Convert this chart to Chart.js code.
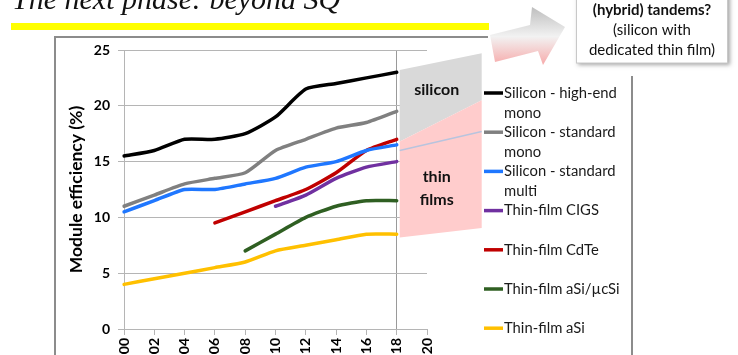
<!DOCTYPE html>
<html><head><meta charset="utf-8">
<script src="https://cdn.jsdelivr.net/npm/chart.js@4"></script>
<style>html,body{margin:0;padding:0;background:#fff;overflow:hidden}canvas{display:block}</style>
</head><body>
<canvas id="c" width="738" height="355"></canvas>
<script>
// ---- data ----
const categories = ['00','02','04','06','08','10','12','14','16','18','20'];
const highEndMono   = [15.5, 16, 17, 17, 17.5, 19, 21.5, 22, 22.5, 23, null];
const standardMono  = [11, 12, 13, 13.5, 14, 16, 17, 18, 18.5, 19.5, null];
const standardMulti = [10.5, 11.5, 12.5, 12.5, 13, 13.5, 14.5, 15, 16, 16.5, null];
const cigs          = [null, null, null, null, null, 11, 12, 13.5, 14.5, 15, null];
const cdte          = [null, null, null, 9.5, 10.5, 11.5, 12.5, 14, 16, 17, null];
const micromorph    = [null, null, null, null, 7, 8.5, 10, 11, 11.5, 11.5, null];
const amorphousSi   = [4, 4.5, 5, 5.5, 6, 7, 7.5, 8, 8.5, 8.5, null];
const seriesNames = ['Silicon - high-end mono','Silicon - standard mono','Silicon - standard multi',
  'Thin-film CIGS','Thin-film CdTe','Thin-film aSi/\u00b5cSi','Thin-film aSi'];
const seriesColors = ['#000000','#808080','#1F77FF','#7030A0','#C00000','#2F5F22','#FFC000'];
const yTicks = [0, 5, 10, 15, 20, 25];
const yTitle = 'Module efficiency (%)';
const pageTitle = 'The next phase: beyond SQ';
const calloutLines = ['(hybrid) tandems?', '(silicon with', 'dedicated thin film)'];
const zoneLabels = ['silicon', 'thin', 'films'];

const seriesValues = [highEndMono, standardMono, standardMulti, cigs, cdte, micromorph, amorphousSi];
const FONT = 'Lato, "Open Sans", sans-serif';
Chart.defaults.font.family = FONT;

const decor = {
  id: 'decor',
  beforeDraw(chart) {
    const c = chart.ctx;
    c.save();
    c.fillStyle = '#fff'; c.fillRect(0, 0, chart.width, chart.height);
    // title
    c.fillStyle = '#111';
    c.font = 'italic 30px "Liberation Serif", "DejaVu Serif", serif';
    c.textBaseline = 'alphabetic'; c.textAlign = 'left';
    c.fillText(pageTitle, 12, 9);
    // yellow bar
    c.fillStyle = '#FFFF00';
    c.fillRect(11, 23, 478, 7);
    // frame
    c.strokeStyle = '#8C8C8C'; c.lineWidth = 2;
    c.beginPath();
    c.moveTo(55, 360); c.lineTo(55, 37); c.lineTo(488, 37);
    c.moveTo(632, 76); c.lineTo(632, 360);
    c.stroke();
    c.restore();
  },
  beforeDatasetsDraw(chart) {
    const c = chart.ctx, xs = chart.scales.x, ys = chart.scales.y;
    const x0 = xs.getPixelForValue(9) + 3, x1 = x0 + 82;
    c.save();
    // silicon zone (gray)
    c.fillStyle = '#D9D9D9';
    c.beginPath();
    c.moveTo(x0, ys.getPixelForValue(23.2)); c.lineTo(x1, ys.getPixelForValue(24.7));
    c.lineTo(x1, ys.getPixelForValue(20.5)); c.lineTo(x0, ys.getPixelForValue(16.8));
    c.closePath(); c.fill();
    // thin film zone (pink)
    c.fillStyle = '#FFCCCC';
    c.beginPath();
    c.moveTo(x0, ys.getPixelForValue(16.8)); c.lineTo(x1, ys.getPixelForValue(20.5));
    c.lineTo(x1, ys.getPixelForValue(9.05)); c.lineTo(x0, ys.getPixelForValue(8.2));
    c.closePath(); c.fill();
    // light blue guide
    c.strokeStyle = '#B8C4DE'; c.lineWidth = 1.5;
    c.beginPath();
    c.moveTo(x0, ys.getPixelForValue(16.0)); c.lineTo(x1, ys.getPixelForValue(17.7));
    c.stroke();
    // zone labels
    c.fillStyle = '#111'; c.font = 'bold 16px ' + FONT;
    c.textAlign = 'center'; c.textBaseline = 'middle';
    const xm = (x0 + x1) / 2 - 4;
    c.fillText(zoneLabels[0], xm, ys.getPixelForValue(21.4));
    c.fillText(zoneLabels[1], xm, ys.getPixelForValue(13.6));
    c.fillText(zoneLabels[2], xm, ys.getPixelForValue(11.6));
    c.restore();
  },
  afterDraw(chart) {
    const c = chart.ctx;
    c.save();
    // arrow
    const g = c.createLinearGradient(0, 7, 0, 66);
    g.addColorStop(0, '#BEBEBE'); g.addColorStop(0.5, '#F2F2F2'); g.addColorStop(1, '#F7A8A8');
    c.fillStyle = g;
    c.beginPath();
    c.moveTo(490, 35); c.lineTo(530, 25); c.lineTo(532, 7); c.lineTo(565, 27);
    c.lineTo(543, 65); c.lineTo(538, 51); c.lineTo(495, 62); c.closePath();
    c.fill();
    // callout box
    c.shadowColor = 'rgba(0,0,0,0.35)'; c.shadowBlur = 4; c.shadowOffsetX = 2; c.shadowOffsetY = 2;
    c.fillStyle = '#fff'; c.fillRect(576, -20, 152, 83);
    c.shadowColor = 'transparent';
    c.strokeStyle = '#C8C8C8'; c.lineWidth = 1; c.strokeRect(576.5, -20, 151, 83);
    c.fillStyle = '#111'; c.textAlign = 'center'; c.textBaseline = 'middle';
    c.font = 'bold 15px ' + FONT; c.fillText(calloutLines[0], 652, 10);
    c.font = '15px ' + FONT;
    c.fillText(calloutLines[1], 652, 30);
    c.fillText(calloutLines[2], 652, 50);
    // legend
    c.font = '14.8px ' + FONT; c.textAlign = 'left';
    let y = 93;
    chart.data.datasets.forEach((ds) => {
      const words = ds.label.split(' ');
      const lines = []; let cur = '';
      words.forEach(w => {
        const t = cur ? cur + ' ' + w : w;
        if (cur && c.measureText(t).width > 124) { lines.push(cur); cur = w; } else cur = t;
      });
      lines.push(cur);
      c.strokeStyle = ds.borderColor; c.lineWidth = 3.5; c.lineCap = 'butt';
      c.beginPath(); c.moveTo(484, y); c.lineTo(503, y); c.stroke();
      c.fillStyle = '#1A1A1A';
      lines.forEach((ln, i) => c.fillText(ln, 504, y + i * 20));
      y += 39.2;
    });
    c.restore();
  }
};

new Chart(document.getElementById('c'), {
  type: 'line',
  data: {
    labels: categories,
    datasets: seriesValues.map((vals, i) => ({
      label: seriesNames[i], data: vals, borderColor: seriesColors[i], backgroundColor: seriesColors[i],
      borderWidth: 3.5, pointRadius: 0, tension: 0.2, borderCapStyle: 'round', borderJoinStyle: 'round',
      spanGaps: false, fill: false
    }))
  },
  options: {
    responsive: false, animation: false, events: [],
    layout: { padding: { left: 62, top: 50, right: 311, bottom: 0 } },
    plugins: { legend: { display: false }, tooltip: { enabled: false } },
    scales: {
      x: {
        type: 'category', offset: false,
        grid: { color: (ctx) => ctx.index === 9 ? '#9A9A9A' : 'rgba(0,0,0,0)', tickColor: '#B5B5B5', tickLength: 6, drawOnChartArea: true },
        border: { color: '#B5B5B5' },
        ticks: { autoSkip: false, minRotation: 90, maxRotation: 90, color: '#000', padding: 3, font: { weight: 'bold', size: 14 } },
        afterFit: (s) => { s.height = 26; }
      },
      y: {
        min: 0, max: 25,
        afterBuildTicks: (s) => { s.ticks = yTicks.map(v => ({ value: v })); },
        grid: { color: '#B5B5B5', tickLength: 6 },
        border: { color: '#B5B5B5' },
        ticks: { color: '#000', padding: 8, font: { weight: 'bold', size: 14 } },
        title: { display: true, text: yTitle, color: '#000', font: { weight: 'bold', size: 17.5 } },
        afterFit: (s) => { s.width = 62; }
      }
    }
  },
  plugins: [decor]
});
</script>
</body></html>
